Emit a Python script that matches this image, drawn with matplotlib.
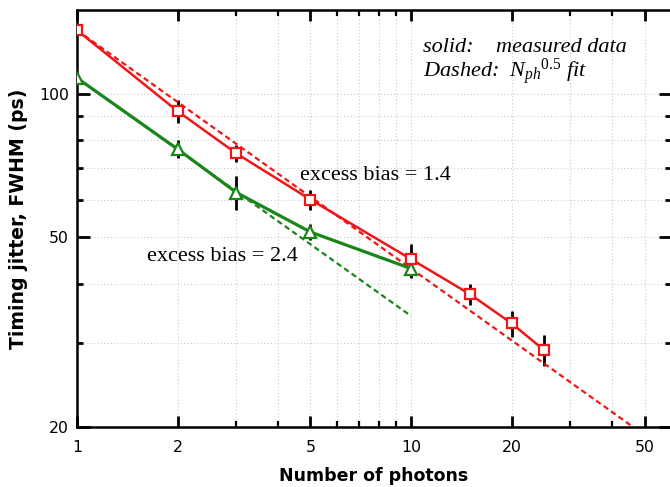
import matplotlib
matplotlib.use("Agg")
import matplotlib.pyplot as plt
from matplotlib.ticker import FixedLocator, NullFormatter, FixedFormatter

# data
photons_red = [1, 2, 3, 5, 10, 15, 20, 25]
jitter_red = [136, 92, 75, 60, 45, 38, 33, 29]
err_red = [0, 5, 3, 3, 3.4, 2, 2.1, 2.2]

photons_green = [1, 2, 3, 5, 10]
jitter_green = [108, 76.6, 62.1, 51.3, 43]
err_green = [0, 3.3, 5, 2, 2]

# N^-0.5 fit lines, end points
fit_red_x = [1, 46.2]
fit_red_y = [136, 20]
fit_green_x = [1, 10]
fit_green_y = [108, 34.2]

xmajor = [1, 2, 5, 10, 20, 50]
xminor = [3, 4, 6, 7, 8, 9, 30, 40]
ymajor = [20, 50, 100]
yminor = [30, 40, 60, 70, 80, 90]

RED = "#f01616"
GREEN = "#1a861a"

plt.rcParams["mathtext.fontset"] = "custom"
plt.rcParams["mathtext.rm"] = "Liberation Serif"
plt.rcParams["mathtext.it"] = "Liberation Serif:italic"

fig = plt.figure(figsize=(6.7, 4.87), dpi=100)
W, H = 670, 487
x0, x1, y0, y1 = 77, 671, 427, 10
ax = fig.add_axes([x0 / W, 1 - y0 / H, (x1 - x0) / W, (y0 - y1) / H])
ax.set_xscale("log")
ax.set_yscale("log")
ax.set_xlim(1, 60)
ax.set_ylim(20, 150)

# grid
for v in xmajor + xminor:
    ax.axvline(v, color="#cccccc", lw=0.8, ls=(0, (1, 2)), zorder=0)
for v in ymajor + yminor:
    ax.axhline(v, color="#cccccc", lw=0.8, ls=(0, (1, 2)), zorder=0)

# error bars
ax.errorbar(photons_green, jitter_green, yerr=err_green, fmt="none",
            ecolor="black", elinewidth=2, capsize=0, zorder=2)
ax.errorbar(photons_red, jitter_red, yerr=err_red, fmt="none",
            ecolor="black", elinewidth=2, capsize=0, zorder=2)

# fits
ax.plot(fit_green_x, fit_green_y, color=GREEN, lw=1.6, dashes=(2.5, 1.6), zorder=3)
ax.plot(fit_red_x, fit_red_y, color=RED, lw=1.6, dashes=(2.5, 1.6), zorder=3)

# measured
ax.plot(photons_green, jitter_green, color=GREEN, lw=2.3, marker="^",
        ms=8, mfc="white", mec=GREEN, mew=1.6, zorder=4)
ax.plot(photons_red, jitter_red, color=RED, lw=1.8, marker="s",
        ms=6.5, mfc="white", mec=RED, mew=1.6, zorder=4)

# ticks
ax.xaxis.set_major_locator(FixedLocator(xmajor))
ax.xaxis.set_minor_locator(FixedLocator(xminor))
ax.xaxis.set_major_formatter(FixedFormatter([str(v) for v in xmajor]))
ax.xaxis.set_minor_formatter(NullFormatter())
ax.yaxis.set_major_locator(FixedLocator(ymajor))
ax.yaxis.set_minor_locator(FixedLocator(yminor))
ax.yaxis.set_major_formatter(FixedFormatter([str(v) for v in ymajor]))
ax.yaxis.set_minor_formatter(NullFormatter())

ax.tick_params(axis="both", which="both", direction="in", top=True, right=True,
               color="black", labelsize=11.3)
ax.tick_params(axis="x", which="major", length=8, width=2, pad=9)
ax.tick_params(axis="x", which="minor", length=4.5, width=1.6)
ax.tick_params(axis="y", which="major", length=9, width=2, pad=6)
ax.tick_params(axis="y", which="minor", length=4.5, width=2)

for side in ["left", "bottom", "top"]:
    ax.spines[side].set_linewidth(1.8)
ax.spines["right"].set_visible(False)

ax.set_xlabel("Number of photons", fontsize=12.5, fontweight="bold")
ax.set_ylabel("Timing jitter, FWHM (ps)", fontsize=13.6, fontweight="bold")
ax.xaxis.set_label_coords(0.5, -0.095)
ax.yaxis.set_label_coords(-0.083, 0.5)

serif = "Liberation Serif"
ax.text(0.3754, 0.5923, "excess bias = 1.4", transform=ax.transAxes,
        family=serif, fontsize=16, va="baseline", ha="left")
ax.text(0.1178, 0.3988, "excess bias = 2.4", transform=ax.transAxes,
        family=serif, fontsize=16, va="baseline", ha="left")
ax.text(0.5825, 0.8993, "solid:    measured data", transform=ax.transAxes,
        family=serif, style="italic", fontsize=16, va="baseline", ha="left")
ax.text(0.5825, 0.8393, r"Dashed:  $N_{ph}{}^{\mathit{0.5}}$ fit", transform=ax.transAxes,
        family=serif, style="italic", fontsize=16, va="baseline", ha="left")

fig.savefig("out.png", dpi=100)
